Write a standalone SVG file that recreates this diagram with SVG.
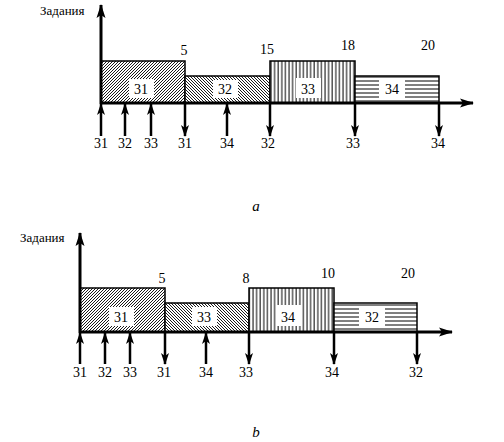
<svg xmlns="http://www.w3.org/2000/svg" width="504" height="442" viewBox="0 0 504 442">
<style>
.t{font-family:"Liberation Serif","Times New Roman",serif;font-size:14px;fill:#000;text-anchor:middle}
.lab{font-family:"Liberation Serif","Times New Roman",serif;font-size:13px;fill:#000}
.cap{font-family:"Liberation Serif","Times New Roman",serif;font-size:15px;font-style:italic;fill:#000;text-anchor:middle}
.box{stroke:#000;stroke-width:1.5}
.ax{stroke:#000;stroke-width:3;fill:none}
.ar{stroke:#000;stroke-width:2.5;fill:none;marker-end:url(#ah)}
.axa{stroke:#000;stroke-width:3;fill:none;marker-end:url(#ah2)}
.bg{fill:#fff}
</style>
<defs>
<marker id="ah" markerUnits="userSpaceOnUse" markerWidth="12" markerHeight="10" viewBox="0 -5 12 10" refX="11" refY="0" orient="auto">
<path d="M0,-4 L12,0 L0,4 L3,0 z" fill="#000"/>
</marker>
<marker id="ah2" markerUnits="userSpaceOnUse" markerWidth="14" markerHeight="10" viewBox="0 -5 14 10" refX="13" refY="0" orient="auto">
<path d="M0,-4.5 L14,0 L0,4.5 L3,0 z" fill="#000"/>
</marker>
<pattern id="fw" patternUnits="userSpaceOnUse" width="3" height="3">
<rect width="3" height="3" fill="#fff"/>
<path d="M-1,1 L1,-1 M0,3 L3,0 M2,4 L4,2" stroke="#000" stroke-width="0.9"/>
</pattern>
<pattern id="bw" patternUnits="userSpaceOnUse" width="3" height="3">
<rect width="3" height="3" fill="#fff"/>
<path d="M-1,2 L1,4 M0,0 L3,3 M2,-1 L4,1" stroke="#000" stroke-width="0.9"/>
</pattern>
<pattern id="vl" patternUnits="userSpaceOnUse" width="3.6" height="10">
<rect width="3.6" height="10" fill="#fff"/>
<line x1="1" y1="0" x2="1" y2="10" stroke="#000" stroke-width="1"/>
</pattern>
<pattern id="hl" patternUnits="userSpaceOnUse" width="10" height="4">
<rect width="10" height="4" fill="#fff"/>
<line x1="0" y1="1" x2="10" y2="1" stroke="#000" stroke-width="1"/>
</pattern>
</defs>

<!-- Diagram a -->
<g id="a-box31"><rect class="box" x="101" y="61" width="84" height="42" fill="url(#fw)"/><rect class="bg" x="129" y="79" width="25" height="19"/><text class="t" x="141" y="94">31</text></g>
<g id="a-box32"><rect class="box" x="185" y="76" width="85" height="27" fill="url(#bw)"/><rect class="bg" x="213" y="80" width="25" height="18"/><text class="t" x="225" y="94">32</text></g>
<g id="a-box33"><rect class="box" x="270" y="61" width="85" height="42" fill="url(#vl)"/><rect class="bg" x="296" y="78" width="25" height="20"/><text class="t" x="308" y="94">33</text></g>
<g id="a-box34"><rect class="box" x="355" y="76" width="84" height="27" fill="url(#hl)"/><rect class="bg" x="379" y="80" width="26" height="18"/><text class="t" x="392" y="94">34</text></g>
<g id="a-axes">
<line class="axa" x1="101" y1="104" x2="101" y2="5"/>
<line class="axa" x1="100" y1="103" x2="473" y2="103"/>
<text class="lab" x="40" y="15">Задания</text>
</g>
<g id="a-times">
<text class="t" x="184" y="55">5</text>
<text class="t" x="267" y="54">15</text>
<text class="t" x="348" y="50">18</text>
<text class="t" x="428" y="50">20</text>
</g>
<g id="a-connectors">
<line class="ar" x1="101" y1="136" x2="101" y2="104"/>
<line class="ar" x1="125" y1="136" x2="125" y2="104"/>
<line class="ar" x1="151" y1="136" x2="151" y2="104"/>
<line class="ar" x1="185" y1="103" x2="185" y2="136"/>
<line class="ar" x1="227" y1="136" x2="227" y2="104"/>
<line class="ar" x1="270" y1="103" x2="270" y2="136"/>
<line class="ar" x1="355" y1="103" x2="355" y2="136"/>
<line class="ar" x1="439" y1="103" x2="439" y2="136"/>
</g>
<g id="a-events">
<text class="t" x="101" y="148">31</text>
<text class="t" x="125" y="148">32</text>
<text class="t" x="151" y="148">33</text>
<text class="t" x="185" y="148">31</text>
<text class="t" x="227" y="148">34</text>
<text class="t" x="268" y="148">32</text>
<text class="t" x="353" y="148">33</text>
<text class="t" x="438" y="148">34</text>
</g>
<text class="cap" x="256" y="211">a</text>

<!-- Diagram b -->
<g id="b-box31"><rect class="box" x="80" y="288" width="85" height="44" fill="url(#fw)"/><rect class="bg" x="109" y="307" width="25" height="19"/><text class="t" x="121" y="322">31</text></g>
<g id="b-box33"><rect class="box" x="165" y="303" width="84" height="29" fill="url(#bw)"/><rect class="bg" x="192" y="307" width="25" height="19"/><text class="t" x="204" y="322">33</text></g>
<g id="b-box34"><rect class="box" x="249" y="288" width="85" height="44" fill="url(#vl)"/><rect class="bg" x="276" y="305" width="25" height="21"/><text class="t" x="288" y="322">34</text></g>
<g id="b-box32"><rect class="box" x="334" y="303" width="83" height="29" fill="url(#hl)"/><rect class="bg" x="359" y="307" width="26" height="19"/><text class="t" x="372" y="322">32</text></g>
<g id="b-axes">
<line class="axa" x1="80" y1="333" x2="80" y2="233"/>
<line class="axa" x1="79" y1="332" x2="452" y2="332"/>
<text class="lab" x="20" y="242">Задания</text>
</g>
<g id="b-times">
<text class="t" x="162" y="283">5</text>
<text class="t" x="246" y="283">8</text>
<text class="t" x="328" y="278">10</text>
<text class="t" x="408" y="278">20</text>
</g>
<g id="b-connectors">
<line class="ar" x1="80" y1="364" x2="80" y2="333"/>
<line class="ar" x1="105" y1="364" x2="105" y2="333"/>
<line class="ar" x1="130" y1="364" x2="130" y2="333"/>
<line class="ar" x1="165" y1="332" x2="165" y2="364"/>
<line class="ar" x1="206" y1="364" x2="206" y2="333"/>
<line class="ar" x1="249" y1="332" x2="249" y2="364"/>
<line class="ar" x1="334" y1="332" x2="334" y2="364"/>
<line class="ar" x1="417" y1="332" x2="417" y2="364"/>
</g>
<g id="b-events">
<text class="t" x="80" y="377">31</text>
<text class="t" x="105" y="377">32</text>
<text class="t" x="130" y="377">33</text>
<text class="t" x="164" y="377">31</text>
<text class="t" x="206" y="377">34</text>
<text class="t" x="246" y="377">33</text>
<text class="t" x="332" y="377">34</text>
<text class="t" x="416" y="377">32</text>
</g>
<text class="cap" x="256" y="437">b</text>
</svg>
